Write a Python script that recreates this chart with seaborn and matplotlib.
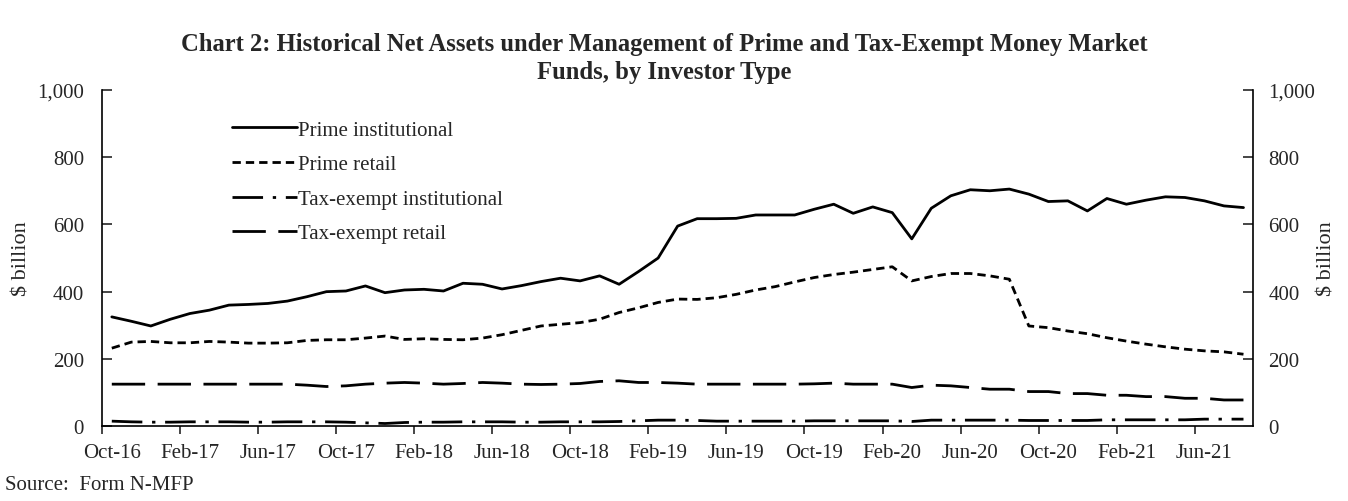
import numpy as np
import pandas as pd
import matplotlib
matplotlib.use("Agg")
import matplotlib.pyplot as plt
import seaborn as sns

# monthly net assets, $ billion, Oct-16 .. Aug-21
months = pd.date_range("2016-10-01", "2021-08-01", freq="MS")
month_labels = [d.strftime("%b-%y") for d in months]

prime_inst = [325, 312, 298, 318, 335, 345, 360, 362, 365, 372,
              385, 400, 402, 417, 397, 405, 407, 402, 425, 422,
              408, 418, 430, 440, 432, 447, 422, 460, 500, 595,
              617, 617, 618, 628, 628, 628, 645, 660, 633, 652,
              635, 557, 648, 685, 703, 700, 705, 690, 668, 670,
              640, 677, 660, 672, 682, 680, 670, 655, 650]
prime_retail = [232, 250, 252, 248, 248, 252, 250, 247, 247, 248,
                255, 257, 257, 262, 268, 258, 260, 258, 257, 262,
                272, 285, 298, 303, 308, 318, 338, 352, 368, 378,
                377, 382, 392, 405, 415, 429, 442, 451, 458, 466,
                474, 432, 445, 454, 454, 447, 437, 298, 293, 283,
                275, 263, 253, 244, 236, 229, 224, 221, 214]
taxex_inst = [15, 13, 12, 12, 13, 13, 13, 12, 12, 13,
              13, 13, 12, 10, 8, 11, 12, 12, 13, 13,
              13, 12, 12, 13, 13, 13, 14, 16, 18, 18,
              17, 15, 15, 15, 15, 15, 16, 16, 16, 16,
              16, 14, 18, 18, 18, 18, 18, 17, 17, 17,
              17, 19, 19, 19, 19, 19, 21, 21, 21]
taxex_retail = [125, 125, 125, 125, 125, 125, 125, 125, 125, 125,
                122, 118, 120, 125, 128, 130, 128, 125, 127, 130,
                128, 125, 124, 125, 127, 133, 135, 130, 130, 128,
                125, 125, 125, 125, 125, 125, 126, 128, 125, 125,
                125, 115, 122, 120, 115, 110, 110, 103, 103, 97,
                97, 92, 92, 88, 88, 83, 83, 78, 78]

series = [("Prime institutional", prime_inst, "-"),
          ("Prime retail", prime_retail, (0, (3, 1.8))),
          ("Tax-exempt institutional", taxex_inst, (0, (11, 3.5, 1.2, 3.5))),
          ("Tax-exempt retail", taxex_retail, (0, (12, 4.5)))]

sns.set_style("white")
plt.rcParams['font.family'] = ['Liberation Serif', 'DejaVu Serif']

fig = plt.figure(figsize=(13.48, 5.02), dpi=100)
ax = fig.add_axes([0.0757, 0.149, 0.854, 0.670])

x = np.arange(len(months))
for name, vals, ls in series:
    sns.lineplot(x=x, y=vals, ax=ax, color="black", linewidth=2.0,
                 linestyle=ls, label=name)

ax.set_xlim(-0.5, len(months) - 0.5)
ax.set_ylim(0, 1000)
ax.set_yticks(range(0, 1001, 200))
ax.set_yticklabels([f"{v:,}" for v in range(0, 1001, 200)])

# labels every 4 months, tick marks between categories
ax.set_xticks(x[::4])
ax.set_xticklabels(month_labels[::4])
ax.set_xticks(x[::4] - 0.5, minor=True)
ax.tick_params(axis="x", which="major", length=0, pad=12, labelsize=15)
ax.tick_params(axis="x", which="minor", length=6, width=1.2, direction="out",
               bottom=True)
ax.tick_params(axis="y", length=7, width=1.2, direction="in", left=True,
               pad=13, labelsize=15)

for side in ["top", "right"]:
    ax.spines[side].set_visible(False)
for side in ["left", "bottom"]:
    ax.spines[side].set_color("black")
    ax.spines[side].set_linewidth(1.2)

ax.set_ylabel("$ billion", fontsize=16)
ax.yaxis.set_label_coords(-0.061, 0.5)

ax2 = ax.twinx()
ax2.set_ylim(0, 1000)
ax2.set_yticks(range(0, 1001, 200))
ax2.set_yticklabels([f"{v:,}" for v in range(0, 1001, 200)])
ax2.tick_params(axis="y", length=7, width=1.2, direction="in", right=True,
                pad=11, labelsize=15)
for side in ["top", "left", "bottom"]:
    ax2.spines[side].set_visible(False)
ax2.spines["right"].set_color("black")
ax2.spines["right"].set_linewidth(1.2)
ax2.set_ylabel("$ billion", fontsize=16)
ax2.yaxis.set_label_coords(1.056, 0.5)

leg = ax.legend(loc="upper left", bbox_to_anchor=(0.113, 0.91), frameon=False,
                fontsize=15, handlelength=3.1, handletextpad=0.05,
                labelspacing=0.72, borderpad=0, borderaxespad=0)

fig.text(0.493, 0.8835, "Chart 2: Historical Net Assets under Management of Prime and Tax-Exempt Money Market\nFunds, by Investor Type",
         ha="center", va="center", fontsize=17.7, fontweight="bold", linespacing=1.3)
fig.text(0.004, 0.032, "Source:  Form N-MFP", fontsize=15, va="center")

fig.savefig("out.png", dpi=100)
